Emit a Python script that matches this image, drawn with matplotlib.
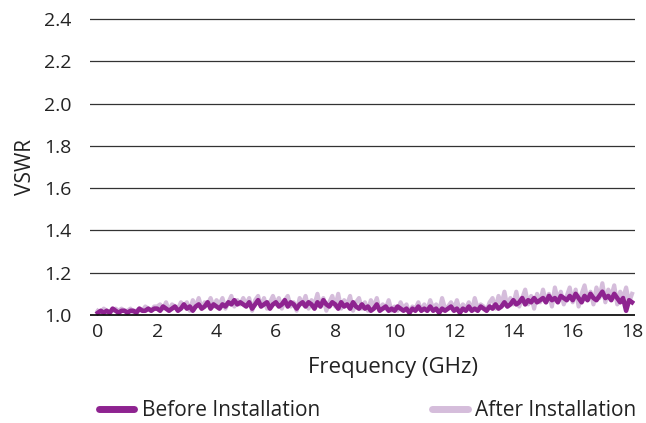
import numpy as np
import matplotlib
matplotlib.use("Agg")
import matplotlib.pyplot as plt

freq_start, freq_step = 0.0, 0.1

before = [
    1.01,1.02,1.01,1.02,1.01,1.03,1.02,1.01,1.02,1.02,
    1.01,1.02,1.02,1.01,1.03,1.02,1.02,1.03,1.02,1.03,
    1.03,1.02,1.04,1.03,1.02,1.03,1.04,1.02,1.03,1.05,
    1.03,1.04,1.02,1.04,1.05,1.03,1.04,1.06,1.03,1.05,
    1.04,1.03,1.05,1.04,1.06,1.05,1.07,1.05,1.06,1.05,
    1.04,1.06,1.03,1.05,1.07,1.04,1.05,1.06,1.03,1.05,
    1.06,1.04,1.05,1.07,1.04,1.06,1.05,1.03,1.05,1.06,
    1.04,1.06,1.05,1.03,1.06,1.04,1.07,1.05,1.04,1.06,
    1.05,1.03,1.06,1.04,1.05,1.03,1.06,1.04,1.03,1.05,
    1.03,1.04,1.02,1.03,1.05,1.02,1.03,1.04,1.02,1.03,
    1.02,1.04,1.03,1.02,1.03,1.01,1.03,1.02,1.04,1.02,
    1.03,1.02,1.04,1.02,1.03,1.01,1.03,1.02,1.03,1.04,
    1.02,1.03,1.01,1.03,1.02,1.04,1.02,1.03,1.02,1.04,
    1.03,1.02,1.04,1.03,1.05,1.03,1.04,1.06,1.04,1.05,
    1.07,1.05,1.06,1.08,1.05,1.07,1.06,1.08,1.06,1.07,
    1.08,1.06,1.09,1.07,1.08,1.06,1.09,1.08,1.07,1.09,
    1.07,1.10,1.08,1.06,1.09,1.07,1.10,1.08,1.07,1.09,
    1.11,1.08,1.09,1.07,1.10,1.08,1.06,1.08,1.02,1.07,
    1.06,
]

after = [
    1.02,1.01,1.03,1.02,1.01,1.02,1.03,1.02,1.03,1.02,
    1.02,1.03,1.01,1.02,1.03,1.02,1.04,1.03,1.02,1.04,
    1.04,1.05,1.03,1.06,1.02,1.05,1.04,1.03,1.06,1.04,
    1.06,1.02,1.07,1.04,1.08,1.03,1.06,1.05,1.08,1.04,
    1.07,1.05,1.08,1.03,1.06,1.09,1.04,1.07,1.05,1.08,
    1.05,1.08,1.02,1.07,1.09,1.04,1.08,1.03,1.06,1.09,
    1.05,1.08,1.03,1.07,1.09,1.04,1.06,1.02,1.08,1.05,
    1.09,1.03,1.07,1.05,1.10,1.04,1.08,1.02,1.06,1.09,
    1.04,1.10,1.03,1.07,1.05,1.09,1.02,1.06,1.08,1.03,
    1.06,1.02,1.07,1.04,1.08,1.02,1.05,1.03,1.07,1.02,
    1.04,1.02,1.06,1.03,1.05,1.01,1.04,1.03,1.06,1.02,
    1.05,1.02,1.07,1.03,1.05,1.02,1.08,1.03,1.04,1.06,
    1.03,1.07,1.02,1.05,1.03,1.06,1.02,1.08,1.03,1.05,
    1.04,1.02,1.06,1.08,1.03,1.09,1.05,1.11,1.04,1.08,
    1.05,1.11,1.04,1.08,1.12,1.05,1.09,1.03,1.10,1.06,
    1.12,1.06,1.10,1.04,1.13,1.07,1.11,1.05,1.09,1.13,
    1.06,1.12,1.04,1.10,1.14,1.07,1.11,1.05,1.13,1.08,
    1.15,1.06,1.12,1.09,1.14,1.05,1.11,1.08,1.13,1.06,
    1.10,
]

xticks = [0, 2, 4, 6, 8, 10, 12, 14, 16, 18]
yticks = [1.0, 1.2, 1.4, 1.6, 1.8, 2.0, 2.2, 2.4]
series_names = ["Before Installation", "After Installation"]

freq = freq_start + freq_step * np.arange(len(before))

plt.rcParams['font.family'] = ['Open Sans', 'DejaVu Sans']

dark = "#8E2390"
light = "#D5BDDB"
txt = "#222222"

fig = plt.figure(figsize=(6.46, 4.23), dpi=100)
ax = fig.add_axes([0.139, 0.2454, 0.844, 0.7196])

ax.plot(freq, after, color=light, lw=3.0, zorder=2, label=series_names[1],
        solid_joinstyle='round')
ax.plot(freq, before, color=dark, lw=3.3, zorder=3, label=series_names[0],
        solid_joinstyle='round')

ax.set_xlim(-0.27, 18.1)
ax.set_ylim(0.98, 2.42)
ax.set_xticks(xticks)
ax.set_yticks(yticks)
ax.set_yticklabels([f"{v:.1f}" for v in yticks])

for v in yticks[1:]:
    ax.axhline(v, color="#333333", lw=0.9, zorder=1)
ax.axhline(1.0, color="#111111", lw=1.3, zorder=4)

for s in ax.spines.values():
    s.set_visible(False)
ax.tick_params(axis='both', length=0, labelsize=14, colors=txt)
ax.tick_params(axis='y', pad=13)
ax.tick_params(axis='x', pad=3)

ax.set_xlabel("Frequency (GHz)", fontsize=16, color=txt)
ax.xaxis.set_label_coords(0.556, -0.125)
ax.set_ylabel("VSWR", fontsize=15, color=txt, labelpad=6)

h, l = ax.get_legend_handles_labels()
leg = fig.legend(h[::-1], l[::-1], loc='center', bbox_to_anchor=(0.569, 0.029),
                 ncol=2, frameon=False, fontsize=15, handlelength=1.7,
                 columnspacing=5.4, handletextpad=0.35, labelcolor=txt)
for line in leg.get_lines():
    line.set_linewidth(5)
    line.set_solid_capstyle('round')

fig.savefig("out.png", dpi=100)
